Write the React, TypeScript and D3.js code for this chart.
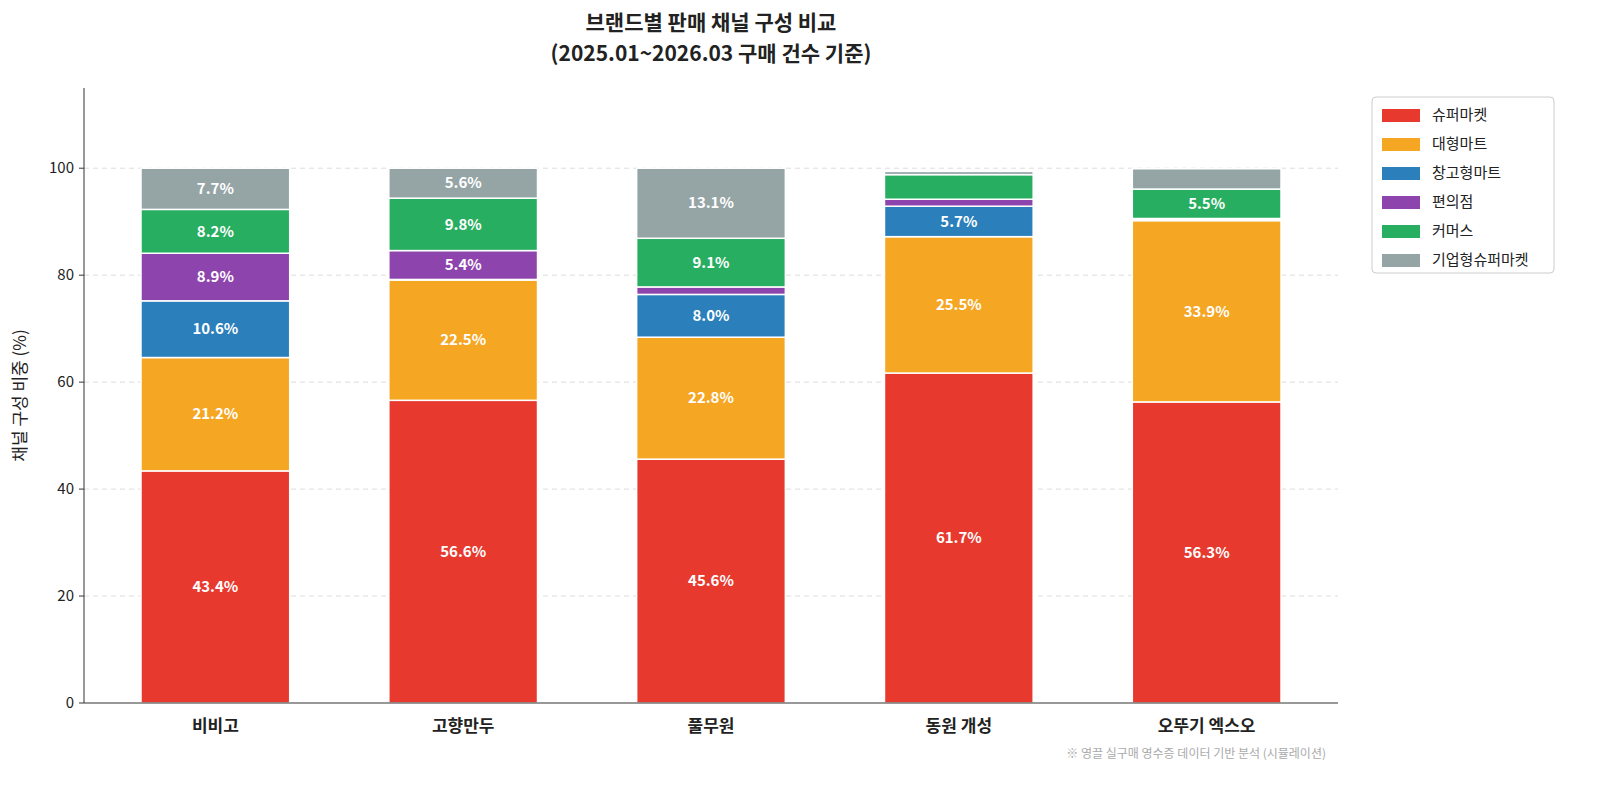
import React from "react";
import * as d3 from "d3";

const brands = ["비비고", "고향만두", "풀무원", "동원 개성", "오뚜기 엑스오"];
const channels = ["슈퍼마켓", "대형마트", "창고형마트", "편의점", "커머스", "기업형슈퍼마켓"];
const colors = ["#e8392e", "#f5a623", "#2b7fbb", "#8e44ad", "#27ae60", "#95a5a6"];
const supermarket = [43.4, 56.6, 45.6, 61.7, 56.3];
const hypermarket = [21.2, 22.5, 22.8, 25.5, 33.9];
const warehouse = [10.6, 0.1, 8.0, 5.7, 0.2];
const convenience = [8.9, 5.4, 1.4, 1.3, 0.2];
const commerce = [8.2, 9.8, 9.1, 4.6, 5.5];
const corporate = [7.7, 5.6, 13.1, 0.6, 3.8];
const yTicks = [0, 20, 40, 60, 80, 100];

const series = [supermarket, hypermarket, warehouse, convenience, commerce, corporate];
const font = "'Noto Sans CJK KR', 'Noto Sans', sans-serif";

export default function App() {
  const width = 1600, height = 791;
  const margin = { top: 88, right: 262, bottom: 88, left: 84 };
  const x = d3.scaleBand<string>().domain(brands)
    .range([margin.left, width - margin.right]).paddingInner(0.4).paddingOuter(0.23);
  const y = d3.scaleLinear().domain([0, 115]).range([height - margin.bottom, margin.top]);
  const cx = (margin.left + width - margin.right) / 2;

  return (
    <svg width={width} height={height} style={{ position: "fixed", left: 0, top: 0, fontFamily: font, background: "#fff" }}>
      <text x={cx} y={30} textAnchor="middle" fontSize={21} fontWeight="bold" fill="#222">브랜드별 판매 채널 구성 비교</text>
      <text x={cx} y={61} textAnchor="middle" fontSize={21} fontWeight="bold" fill="#222">(2025.01~2026.03 구매 건수 기준)</text>
      {yTicks.map((t) => (
        <g key={t}>
          {t > 0 && <line x1={margin.left} x2={width - margin.right} y1={y(t)} y2={y(t)} stroke="#ddd" strokeDasharray="5,4" />}
          <line x1={margin.left - 5} x2={margin.left} y1={y(t)} y2={y(t)} stroke="#333" />
          <text x={margin.left - 10} y={y(t)} dy="0.35em" textAnchor="end" fontSize={15} fill="#222">{t}</text>
        </g>
      ))}
      {brands.map((b, i) => {
        let acc = 0;
        return (
          <g key={b}>
            {series.map((s, k) => {
              const v = s[i];
              const y0 = acc, y1 = acc + v;
              acc = y1;
              return (
                <g key={k}>
                  <rect x={x(b)} width={x.bandwidth()} y={y(y1)} height={y(y0) - y(y1)} fill={colors[k]} stroke="#fff" strokeWidth={1.5} />
                  {v >= 5 && (
                    <text x={x(b)! + x.bandwidth() / 2} y={y((y0 + y1) / 2)} dy="0.35em" textAnchor="middle" fontSize={15} fontWeight="bold" fill="#fff">{v.toFixed(1)}%</text>
                  )}
                </g>
              );
            })}
            <text x={x(b)! + x.bandwidth() / 2} y={y(0) + 29} textAnchor="middle" fontSize={17} fontWeight="bold" fill="#222">{b}</text>
          </g>
        );
      })}
      <line x1={margin.left} x2={margin.left} y1={margin.top} y2={y(0)} stroke="#333" />
      <line x1={margin.left} x2={width - margin.right} y1={y(0)} y2={y(0)} stroke="#333" />
      <text transform={`translate(26,${(margin.top + y(0)) / 2}) rotate(-90)`} textAnchor="middle" fontSize={17} fill="#222">채널 구성 비중 (%)</text>
      <g transform="translate(1372,97)">
        <rect width={182} height={176} rx={4} fill="#fff" stroke="#ccc" />
        {channels.map((c, k) => (
          <g key={c} transform={`translate(10,${18 + k * 29})`}>
            <rect width={38} height={13} y={-6} fill={colors[k]} />
            <text x={50} dy="0.35em" fontSize={15} fill="#222">{c}</text>
          </g>
        ))}
      </g>
      <text x={width - margin.right - 12} y={758} textAnchor="end" fontSize={12} fill="#aaa">※ 영끌 실구매 영수증 데이터 기반 분석 (시뮬레이션)</text>
    </svg>
  );
}
